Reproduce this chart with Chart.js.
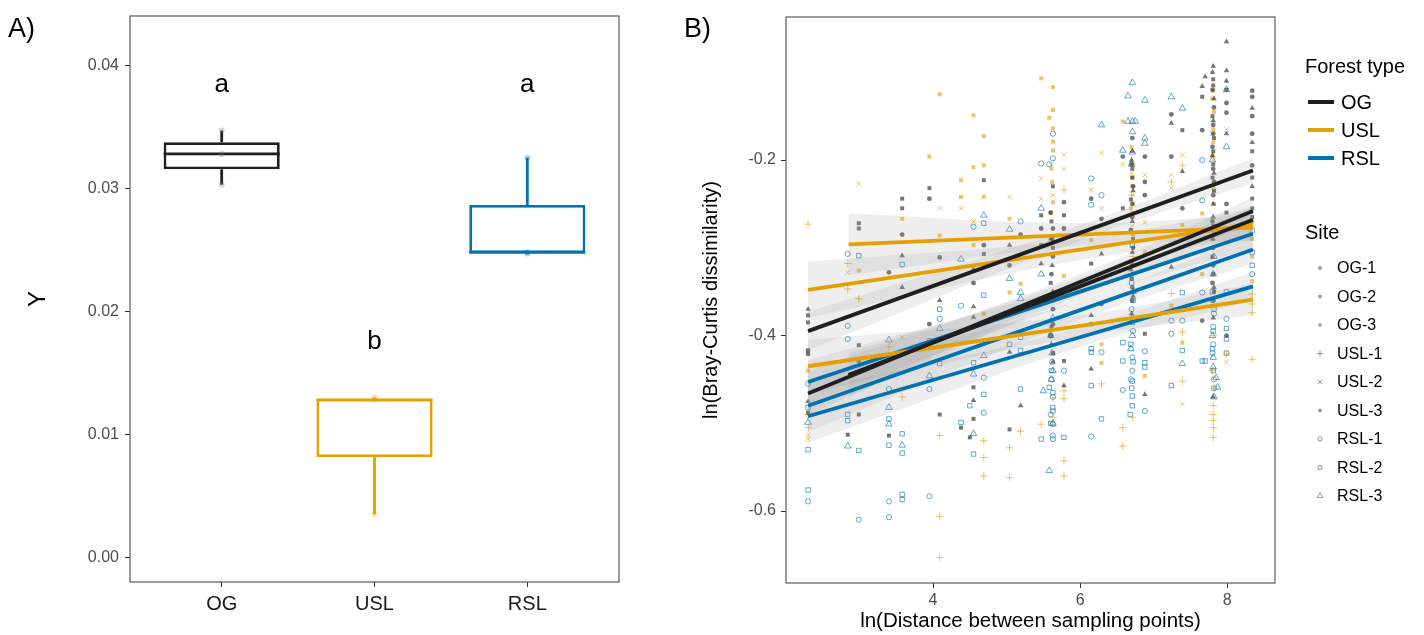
<!DOCTYPE html>
<html><head><meta charset="utf-8">
<script src="https://cdn.jsdelivr.net/npm/chart.js@4.4.1/dist/chart.umd.min.js"></script>
<style>
html,body{margin:0;padding:0;background:#fff;width:1424px;height:635px;overflow:hidden}
#wa{position:absolute;left:0;top:0;width:680px;height:635px}
#wb{position:absolute;left:680px;top:0;width:744px;height:635px}
canvas{display:block}
</style></head><body>
<div id="wa"><canvas id="ca" width="680" height="635"></canvas></div>
<div id="wb"><canvas id="cb" width="744" height="635"></canvas></div>
<script>
// ---------- Panel A data ----------
const boxCategories = ['OG','USL','RSL'];
const boxPositions = [1,2,3];
const boxPointsOG  = [0.0303, 0.0328, 0.0347];
const boxPointsUSL = [0.0035, 0.0128, 0.0130];
const boxPointsRSL = [0.0247, 0.0248, 0.0325];
const groupLetters = ['a','b','a'];
const letterY = [0.0384, 0.0175, 0.0384];
const yTicksA = [0, 0.01, 0.02, 0.03, 0.04];

// ---------- Panel B data ----------
const forestTypes = ['OG','USL','RSL'];
const siteNames = ['OG-1','OG-2','OG-3','USL-1','USL-2','USL-3','RSL-1','RSL-2','RSL-3'];
const xTicksB = [4,6,8];
const yTicksB = [-0.6,-0.4,-0.2];

const siteOG1 = [[2.30,-0.417],[2.30,-0.421],[3.58,-0.285],[3.40,-0.328],[3.95,-0.244],[3.95,-0.387],[4.09,-0.311],[4.69,-0.297],[5.19,-0.285],[5.04,-0.320],[5.47,-0.278],[5.63,-0.278],[5.63,-0.387],[5.78,-0.248],[5.78,-0.278],[6.15,-0.244],[6.29,-0.267],[6.29,-0.364],[6.15,-0.387],[6.58,-0.196],[6.71,-0.175],[6.88,-0.196],[6.88,-0.225],[6.88,-0.240],[6.71,-0.250],[6.71,-0.360],[7.24,-0.148],[7.24,-0.196],[7.39,-0.255],[7.66,-0.166],[7.66,-0.383],[7.81,-0.170],[7.81,-0.210],[7.81,-0.300],[7.99,-0.135],[7.99,-0.146],[7.99,-0.250],[8.34,-0.121],[8.34,-0.128],[8.34,-0.206],[2.99,-0.429],[4.55,-0.340],[5.63,-0.310],[6.71,-0.320],[7.81,-0.360],[7.99,-0.400],
  [6.70,-0.205],[6.72,-0.230],[6.71,-0.265],[6.69,-0.280],[6.72,-0.300],[6.70,-0.335],[7.80,-0.120],[7.82,-0.140],[7.81,-0.160],[7.80,-0.185],[7.82,-0.225],[7.81,-0.240],[7.80,-0.270],[7.82,-0.285],[7.81,-0.320],[7.80,-0.340],[5.60,-0.260],[5.62,-0.290],[5.61,-0.330],[5.63,-0.370],[5.60,-0.400],[8.34,-0.150],[8.34,-0.170]];
const siteOG2 = [[2.30,-0.377],[2.30,-0.385],[2.30,-0.488],[2.99,-0.272],[2.99,-0.278],[2.84,-0.513],[2.99,-0.411],[2.99,-0.490],[3.58,-0.244],[3.58,-0.255],[3.40,-0.514],[3.95,-0.232],[4.09,-0.490],[4.69,-0.223],[4.55,-0.459],[4.38,-0.505],[4.55,-0.495],[4.50,-0.516],[5.04,-0.507],[5.47,-0.263],[5.47,-0.297],[5.78,-0.263],[5.78,-0.429],[6.15,-0.318],[6.58,-0.255],[6.88,-0.398],[7.39,-0.166],[7.66,-0.128],[7.81,-0.108],[7.81,-0.190],[7.99,-0.260],[8.34,-0.190],[8.34,-0.244],[8.34,-0.255],[7.81,-0.330],[6.71,-0.220],[5.63,-0.230],[4.69,-0.307],
  [6.71,-0.210],[6.69,-0.245],[6.72,-0.290],[6.70,-0.315],[6.71,-0.345],[7.81,-0.115],[7.80,-0.150],[7.82,-0.175],[7.81,-0.205],[7.80,-0.220],[7.82,-0.235],[7.81,-0.275],[7.80,-0.310],[7.82,-0.350],[5.61,-0.270],[5.63,-0.300],[5.60,-0.340],[5.62,-0.360],[5.61,-0.390],[5.63,-0.420],[8.34,-0.220],[8.34,-0.265],[7.99,-0.120]];
const siteOG3 = [[2.30,-0.370],[2.30,-0.475],[3.58,-0.309],[3.58,-0.345],[4.55,-0.324],[4.55,-0.367],[4.55,-0.379],[4.55,-0.474],[5.04,-0.297],[5.04,-0.419],[5.19,-0.480],[5.47,-0.318],[5.78,-0.457],[6.29,-0.307],[6.15,-0.377],[6.15,-0.438],[6.71,-0.305],[6.88,-0.467],[7.24,-0.158],[7.24,-0.322],[7.39,-0.213],[7.66,-0.116],[7.81,-0.093],[7.99,-0.065],[7.99,-0.098],[7.70,-0.105],[8.34,-0.141],[7.81,-0.470],[7.81,-0.250],[6.71,-0.190],[5.63,-0.350],[4.09,-0.360],
  [6.70,-0.200],[6.72,-0.235],[6.71,-0.270],[6.69,-0.325],[6.72,-0.355],[6.70,-0.375],[7.80,-0.100],[7.82,-0.130],[7.81,-0.155],[7.80,-0.195],[7.82,-0.215],[7.81,-0.265],[7.80,-0.290],[7.82,-0.345],[7.81,-0.380],[5.60,-0.290],[5.62,-0.320],[5.61,-0.410],[5.63,-0.430],[8.34,-0.180],[8.34,-0.230],[7.99,-0.110],[7.99,-0.170]];
const siteUSL1 = [[2.30,-0.273],[2.30,-0.505],[2.30,-0.490],[2.84,-0.318],[2.84,-0.347],[2.99,-0.358],[3.40,-0.413],[3.58,-0.470],[4.09,-0.514],[4.09,-0.606],[4.09,-0.653],[4.69,-0.520],[4.69,-0.539],[4.69,-0.560],[5.04,-0.528],[5.04,-0.562],[5.19,-0.509],[5.63,-0.471],[5.63,-0.493],[5.47,-0.501],[5.78,-0.234],[5.78,-0.463],[5.78,-0.472],[5.78,-0.543],[5.78,-0.560],[6.29,-0.455],[6.71,-0.493],[6.58,-0.505],[6.58,-0.526],[7.24,-0.225],[7.24,-0.352],[7.39,-0.206],[7.39,-0.396],[7.39,-0.452],[7.81,-0.490],[7.81,-0.497],[7.81,-0.505],[7.81,-0.516],[7.99,-0.421],[8.34,-0.364],[8.34,-0.374],[8.34,-0.353],[8.34,-0.427],[7.81,-0.400],
  [6.70,-0.240],[6.72,-0.310],[7.80,-0.440],[7.82,-0.460],[7.81,-0.480]];
const siteUSL2 = [[2.30,-0.514],[2.30,-0.518],[2.99,-0.227],[2.84,-0.328],[3.58,-0.402],[4.09,-0.255],[4.38,-0.255],[4.55,-0.270],[5.04,-0.242],[5.47,-0.221],[5.47,-0.244],[5.78,-0.194],[5.78,-0.210],[6.15,-0.234],[6.29,-0.255],[6.29,-0.192],[6.58,-0.205],[6.88,-0.217],[6.88,-0.271],[7.24,-0.217],[7.24,-0.232],[7.39,-0.194],[7.39,-0.478],[7.99,-0.165],[7.99,-0.430],[7.81,-0.200],[6.71,-0.240],
  [6.70,-0.215],[6.72,-0.250],[6.71,-0.275],[7.80,-0.170],[7.82,-0.235],[7.81,-0.280],[5.61,-0.205],[5.63,-0.240]];
const siteUSL3 = [[2.30,-0.440],[2.99,-0.326],[3.58,-0.267],[3.95,-0.196],[4.09,-0.125],[4.09,-0.286],[4.38,-0.223],[4.38,-0.242],[4.55,-0.149],[4.55,-0.208],[4.55,-0.297],[4.69,-0.173],[4.69,-0.206],[4.69,-0.242],[4.69,-0.375],[5.04,-0.267],[5.04,-0.351],[5.19,-0.341],[5.47,-0.107],[5.63,-0.117],[5.63,-0.143],[5.58,-0.152],[5.63,-0.164],[5.63,-0.179],[5.63,-0.189],[5.63,-0.248],[5.78,-0.332],[6.15,-0.291],[6.29,-0.410],[6.29,-0.431],[6.58,-0.156],[6.71,-0.220],[6.71,-0.260],[6.88,-0.305],[6.88,-0.446],[7.24,-0.366],[7.39,-0.274],[7.39,-0.408],[7.66,-0.261],[7.66,-0.330],[7.81,-0.121],[7.81,-0.180],[7.81,-0.230],[8.34,-0.270],[8.34,-0.338],
  [6.70,-0.185],[6.72,-0.205],[6.71,-0.230],[6.69,-0.255],[6.72,-0.285],[7.80,-0.130],[7.82,-0.145],[7.81,-0.165],[7.80,-0.195],[7.82,-0.250],[7.81,-0.290],[5.61,-0.210],[5.62,-0.225],[5.60,-0.260],[8.34,-0.290],[8.34,-0.310]];
const siteRSL1 = [[2.30,-0.589],[2.30,-0.455],[2.84,-0.307],[2.84,-0.389],[2.84,-0.404],[2.99,-0.610],[3.40,-0.461],[3.40,-0.589],[3.40,-0.607],[3.95,-0.461],[3.95,-0.583],[4.09,-0.381],[4.38,-0.366],[4.55,-0.276],[4.69,-0.448],[4.69,-0.488],[5.19,-0.270],[5.47,-0.204],[5.63,-0.170],[5.63,-0.198],[5.58,-0.205],[5.63,-0.501],[5.63,-0.514],[5.63,-0.518],[5.78,-0.440],[6.15,-0.221],[6.15,-0.251],[6.15,-0.515],[6.29,-0.240],[6.29,-0.419],[6.58,-0.462],[6.71,-0.440],[6.88,-0.418],[6.88,-0.486],[7.24,-0.383],[7.24,-0.398],[7.39,-0.383],[7.66,-0.200],[7.66,-0.246],[7.66,-0.351],[7.99,-0.381],[7.81,-0.410],
  [6.70,-0.370],[6.72,-0.395],[6.71,-0.425],[6.69,-0.450],[7.80,-0.360],[7.82,-0.375],[7.81,-0.390],[7.80,-0.420],[7.82,-0.450],[5.60,-0.400],[5.62,-0.430],[5.61,-0.450],[5.63,-0.470],[5.60,-0.490],[8.34,-0.330],[7.99,-0.350]];
const siteRSL2 = [[2.30,-0.482],[2.30,-0.530],[2.30,-0.576],[2.84,-0.490],[2.84,-0.497],[2.99,-0.309],[2.99,-0.531],[3.40,-0.495],[3.40,-0.525],[3.58,-0.319],[3.58,-0.512],[3.58,-0.534],[3.58,-0.581],[3.58,-0.587],[3.95,-0.406],[4.09,-0.370],[4.09,-0.432],[4.38,-0.499],[4.55,-0.431],[4.50,-0.480],[4.55,-0.535],[4.69,-0.272],[4.69,-0.354],[4.69,-0.467],[5.04,-0.410],[5.19,-0.402],[5.19,-0.417],[5.19,-0.461],[5.58,-0.459],[5.63,-0.482],[5.63,-0.486],[5.47,-0.518],[5.78,-0.516],[6.15,-0.415],[6.15,-0.419],[6.15,-0.457],[6.29,-0.495],[6.58,-0.408],[6.58,-0.429],[6.71,-0.297],[6.71,-0.452],[6.71,-0.469],[6.71,-0.480],[6.68,-0.490],[6.88,-0.431],[6.88,-0.436],[7.24,-0.457],[7.39,-0.417],[7.39,-0.351],[7.66,-0.429],[7.70,-0.429],[7.99,-0.392],[7.99,-0.404],[8.34,-0.305],[7.81,-0.440],
  [6.70,-0.340],[6.72,-0.360],[6.71,-0.385],[6.69,-0.410],[6.72,-0.430],[6.70,-0.460],[7.80,-0.350],[7.82,-0.370],[7.81,-0.395],[7.80,-0.415],[7.82,-0.460],[5.61,-0.440],[5.63,-0.465],[5.60,-0.500],[8.34,-0.280],[8.34,-0.320],[7.99,-0.420]];
const siteRSL3 = [[2.30,-0.499],[2.84,-0.526],[3.40,-0.405],[3.40,-0.482],[3.40,-0.501],[3.58,-0.525],[3.95,-0.446],[4.09,-0.392],[4.38,-0.313],[4.69,-0.263],[4.55,-0.444],[4.55,-0.512],[4.69,-0.423],[5.04,-0.279],[5.04,-0.335],[5.19,-0.351],[5.19,-0.358],[5.47,-0.255],[5.47,-0.330],[5.63,-0.440],[5.50,-0.463],[5.58,-0.554],[6.29,-0.160],[6.71,-0.112],[6.65,-0.127],[6.88,-0.132],[6.65,-0.156],[6.71,-0.156],[6.75,-0.156],[6.71,-0.168],[6.88,-0.175],[6.88,-0.181],[6.58,-0.189],[6.71,-0.191],[7.24,-0.128],[7.39,-0.141],[7.39,-0.432],[7.99,-0.120],[7.99,-0.185],[7.81,-0.425],[7.81,-0.436],[7.85,-0.448],[7.87,-0.459],[5.63,-0.380],[6.71,-0.400],
  [6.70,-0.205],[6.72,-0.350],[6.71,-0.380],[6.69,-0.415],[7.80,-0.200],[7.82,-0.310],[7.81,-0.330],[7.80,-0.400],[7.82,-0.470],[5.60,-0.400],[5.62,-0.420],[5.61,-0.450],[5.63,-0.500]];
const sitePoints = [siteOG1, siteOG2, siteOG3, siteUSL1, siteUSL2, siteUSL3, siteRSL1, siteRSL2, siteRSL3];

// fitted lines (one per site): x, y at start / middle / end, and CI half-width
const fitForest = [0,0,0,1,1,1,2,2,2];
const fitX = [[2.30,6.0,8.35],[2.30,6.0,8.35],[2.85,6.0,8.35],[2.30,6.0,8.35],[2.85,6.0,8.35],[2.30,6.0,8.35],[2.30,6.0,8.35],[2.30,6.0,8.35],[2.30,6.0,8.35]];
const fitY = [[-0.395,-0.283,-0.212],[-0.466,-0.339,-0.258],[-0.445,-0.344,-0.268],[-0.348,-0.302,-0.273],[-0.296,-0.285,-0.277],[-0.435,-0.389,-0.359],[-0.453,-0.350,-0.284],[-0.480,-0.371,-0.302],[-0.492,-0.402,-0.344]];
const fitHalfWidth = [[0.022,0.009,0.014],[0.025,0.009,0.015],[0.025,0.010,0.016],[0.032,0.012,0.018],[0.035,0.013,0.015],[0.030,0.012,0.018],[0.025,0.010,0.016],[0.030,0.011,0.016],[0.030,0.011,0.016]];

// ---------- styles ----------
const FONT = '"Liberation Sans", Arial, Helvetica, sans-serif';
Chart.defaults.font.family = FONT;
const groupRGB = ['34,34,34','230,159,0','0,114,178'];
const lineColors = ['#1f1f1f','#E69F00','#0072B2'];
const siteStyle = [
  {shape:'circle', r:2.4, filled:true},
  {shape:'rect', r:2.8, filled:true},
  {shape:'triangle', r:3.2, filled:true},
  {shape:'cross', r:3.8, filled:false},
  {shape:'crossRot', r:3.3, filled:false},
  {shape:'rect', r:2.8, filled:true},
  {shape:'circle', r:2.6, filled:false},
  {shape:'rect', r:3.1, filled:false},
  {shape:'triangle', r:3.8, filled:false}
];
const siteGroup = [0,0,0,1,1,1,2,2,2];

function q7(arr,p){const s=[...arr].sort((a,b)=>a-b);const h=(s.length-1)*p;const lo=Math.floor(h);const hi=Math.min(lo+1,s.length-1);return s[lo]+(h-lo)*(s[hi]-s[lo]);}

const framePlugin = (label) => ({
  id:'frame'+label,
  afterDatasetsDraw(chart){
    const {ctx, chartArea:a} = chart;
    ctx.save();
    ctx.strokeStyle = '#5a5a5a'; ctx.lineWidth = 1.2;
    ctx.strokeRect(a.left, a.top, a.right-a.left, a.bottom-a.top);
    ctx.restore();
  },
  afterDraw(chart){
    const {ctx} = chart;
    ctx.save();
    ctx.font = '27px '+FONT; ctx.fillStyle = '#000'; ctx.textBaseline='alphabetic'; ctx.textAlign='left';
    ctx.fillText(label, label==='A)'?8:4, 37);
    ctx.restore();
  }
});

const tickGrid = {display:true, drawOnChartArea:false, drawTicks:true, tickLength:5, color:'#333', lineWidth:1, offset:false};

// ---------- Panel A ----------
const groupsA = [boxPointsOG, boxPointsUSL, boxPointsRSL];
const statsA = groupsA.map(g=>({min:Math.min(...g), q1:q7(g,0.25), med:q7(g,0.5), q3:q7(g,0.75), max:Math.max(...g)}));
const boxHalf = 0.38;
const dsA = [];
statsA.forEach((s,i)=>{
  const c = lineColors[i];
  const p = boxPositions[i];
  dsA.push({type:'line', data:[{x:p-boxHalf,y:s.med},{x:p+boxHalf,y:s.med}], borderColor:c, borderWidth:2.8, pointRadius:0, fill:false, order:1});
  dsA.push({type:'line', data:[{x:p,y:s.q3},{x:p,y:s.max}], borderColor:c, borderWidth:2.8, pointRadius:0, fill:false, order:1});
  dsA.push({type:'line', data:[{x:p,y:s.min},{x:p,y:s.q1}], borderColor:c, borderWidth:2.8, pointRadius:0, fill:false, order:1});
  dsA.push({type:'scatter', data:groupsA[i].map(v=>({x:p,y:v})), pointRadius:3, backgroundColor:'rgba('+(i===0?'120,120,120':groupRGB[i])+',0.3)', borderWidth:0, order:0});
});
dsA.push({type:'bar', data:statsA.map((s,i)=>({x:boxPositions[i], y:[s.q1,s.q3]})), backgroundColor:'#ffffff', borderColor:lineColors, borderWidth:2.8, borderSkipped:false, barPercentage:0.76, categoryPercentage:1, order:2});

const lettersPlugin = {id:'letters', afterDatasetsDraw(chart){
  const {ctx, scales:{x,y}} = chart;
  ctx.save(); ctx.font='26px '+FONT; ctx.fillStyle='#000'; ctx.textAlign='center'; ctx.textBaseline='middle';
  groupLetters.forEach((t,i)=>ctx.fillText(t, x.getPixelForValue(boxPositions[i]), y.getPixelForValue(letterY[i])));
  ctx.restore();
}};

new Chart(document.getElementById('ca'), {
  type:'bar',
  data:{datasets:dsA},
  options:{
    responsive:false, animation:false, events:[],
    layout:{padding:{left:0, top:16, right:61, bottom:0}},
    plugins:{legend:{display:false}, tooltip:{enabled:false}},
    scales:{
      x:{type:'linear', min:0.4, max:3.6, offset:false,
        afterBuildTicks:s=>{s.ticks = boxPositions.map(v=>({value:v}));},
        afterFit:s=>{s.height = 53;},
        ticks:{autoSkip:false, maxRotation:0, padding:5, color:'#1a1a1a', font:{size:20}, callback:(v)=>boxCategories[boxPositions.indexOf(v)]},
        grid:tickGrid, border:{display:false}},
      y:{type:'linear', min:-0.00201, max:0.04402,
        afterBuildTicks:s=>{s.ticks = yTicksA.map(v=>({value:v}));},
        afterFit:s=>{s.width = 130;},
        ticks:{padding:6, color:'#4d4d4d', font:{size:16}, callback:(v)=>Number(v).toFixed(2)},
        grid:tickGrid, border:{display:false},
        title:{display:true, text:'Y', color:'#000', font:{size:24}, padding:{top:24, bottom:0}}}
    }
  },
  plugins:[framePlugin('A)'), lettersPlugin]
});

// ---------- Panel B ----------
const dsB = [];
fitY.forEach((ys,i)=>{
  const c = lineColors[fitForest[i]];
  dsB.push({type:'line', data:fitX[i].map((x,j)=>({x, y:ys[j]})), borderColor:c, borderWidth:3.8, pointRadius:0, fill:false, tension:0, order:0, borderCapStyle:'butt'});
});
fitY.forEach((ys,i)=>{
  dsB.push({type:'line', data:fitX[i].map((x,j)=>({x, y:ys[j]+fitHalfWidth[i][j]})), borderWidth:0, borderColor:'rgba(0,0,0,0)', pointRadius:0, tension:0.4, fill:'+1', backgroundColor:'rgba(150,150,150,0.16)', order:1});
  dsB.push({type:'line', data:fitX[i].map((x,j)=>({x, y:ys[j]-fitHalfWidth[i][j]})), borderWidth:0, borderColor:'rgba(0,0,0,0)', pointRadius:0, tension:0.4, fill:false, order:1});
});
sitePoints.forEach((pts,i)=>{
  const st = siteStyle[i];
  const col = 'rgba('+groupRGB[siteGroup[i]]+',0.62)';
  dsB.push({type:'scatter', label:siteNames[i], data:pts.map(p=>({x:p[0], y:p[1]})), pointStyle:st.shape, pointRadius:st.r,
    backgroundColor: st.filled ? col : 'rgba(0,0,0,0)', borderColor: col, borderWidth: st.filled ? 0 : 1, order:2});
});

function drawKey(ctx, shape, x, y, r, filled){
  ctx.beginPath();
  if(shape==='circle'){ ctx.arc(x,y,r,0,Math.PI*2); }
  else if(shape==='rect'){ const s=r*Math.SQRT1_2; ctx.rect(x-s,y-s,2*s,2*s); }
  else if(shape==='triangle'){ ctx.moveTo(x, y-r); ctx.lineTo(x+r*0.866, y+r*0.5); ctx.lineTo(x-r*0.866, y+r*0.5); ctx.closePath(); }
  else if(shape==='cross'){ ctx.moveTo(x-r,y); ctx.lineTo(x+r,y); ctx.moveTo(x,y-r); ctx.lineTo(x,y+r); }
  else if(shape==='crossRot'){ const s=r*0.707; ctx.moveTo(x-s,y-s); ctx.lineTo(x+s,y+s); ctx.moveTo(x-s,y+s); ctx.lineTo(x+s,y-s); }
  if(filled) ctx.fill(); else ctx.stroke();
}

const legendPlugin = {id:'legendB', afterDraw(chart){
  const {ctx} = chart;
  const ox = 680;
  ctx.save();
  ctx.textAlign='left'; ctx.textBaseline='middle'; ctx.fillStyle='#000';
  ctx.font='20px '+FONT;
  ctx.fillText('Forest type', 1305-ox, 67);
  forestTypes.forEach((t,i)=>{
    const y = 102 + i*28;
    ctx.strokeStyle = lineColors[i]; ctx.lineWidth = 4;
    ctx.beginPath(); ctx.moveTo(1308-ox, y); ctx.lineTo(1334-ox, y); ctx.stroke();
    ctx.fillStyle='#000'; ctx.font='20px '+FONT;
    ctx.fillText(t, 1341-ox, y+1);
  });
  ctx.font='20px '+FONT; ctx.fillStyle='#000';
  ctx.fillText('Site', 1305-ox, 233);
  siteNames.forEach((t,i)=>{
    const y = 268 + i*28.5;
    const st = siteStyle[i];
    ctx.fillStyle='rgba(70,70,70,0.55)'; ctx.strokeStyle='rgba(70,70,70,0.55)'; ctx.lineWidth=1;
    drawKey(ctx, st.shape, 1320-ox, y, st.r*0.85, st.filled);
    ctx.fillStyle='#000'; ctx.font='16px '+FONT;
    ctx.fillText(t, 1337-ox, y+1);
  });
  ctx.restore();
}};

new Chart(document.getElementById('cb'), {
  type:'scatter',
  data:{datasets:dsB},
  options:{
    responsive:false, animation:false, events:[],
    layout:{padding:{left:0, top:17, right:149, bottom:0}},
    plugins:{legend:{display:false}, tooltip:{enabled:false}},
    scales:{
      x:{type:'linear', min:2.0, max:8.65,
        afterBuildTicks:s=>{s.ticks = xTicksB.map(v=>({value:v}));},
        afterFit:s=>{s.height = 52;},
        ticks:{autoSkip:false, maxRotation:0, padding:3, color:'#4d4d4d', font:{size:16}, callback:(v)=>String(v)},
        grid:tickGrid, border:{display:false},
        title:{display:true, text:'ln(Distance between sampling points)', color:'#000', font:{size:20.5}, padding:{top:0, bottom:1}}},
      y:{type:'linear', min:-0.682, max:-0.037,
        afterBuildTicks:s=>{s.ticks = yTicksB.map(v=>({value:v}));},
        afterFit:s=>{s.width = 106;},
        ticks:{padding:5, color:'#4d4d4d', font:{size:16}, callback:(v)=>Number(v).toFixed(1)},
        grid:tickGrid, border:{display:false},
        title:{display:true, text:'ln(Bray-Curtis dissimilarity)', color:'#000', font:{size:20}, padding:{top:19, bottom:0}}}
    }
  },
  plugins:[framePlugin('B)'), legendPlugin]
});
</script>
</body></html>
